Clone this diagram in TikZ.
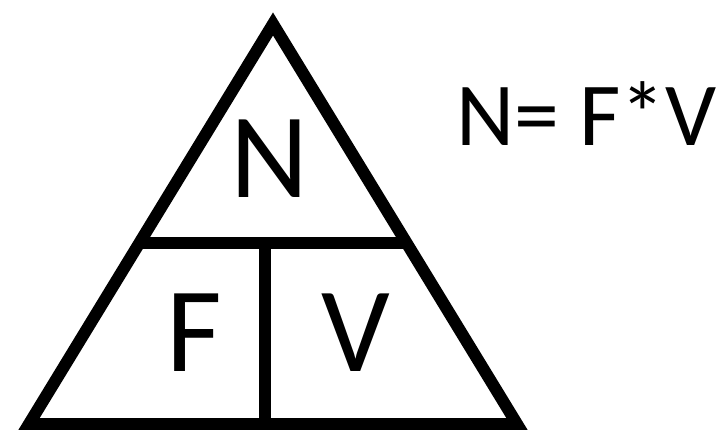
\documentclass[tikz,border=0pt]{standalone}
\usepackage{fontspec}
\setmainfont{Carlito}
\usetikzlibrary{calc}
\begin{document}
\begin{tikzpicture}[x=1pt,y=-1pt,
  edge/.style={line width=12pt,line join=miter,black},
  bigletter/.style={inner sep=0pt,anchor=base,font=\fontsize{121}{121}\selectfont},
  formula/.style={inner sep=0pt,anchor=base west,font=\fontsize{90}{90}\selectfont}]
\useasboundingbox[fill=white] (0,0) rectangle (726,430);
\coordinate (apex) at (273,24);
\coordinate (bl) at (29,424);
\coordinate (br) at (517,424);
\coordinate (ml) at ($(apex)!0.5475!(bl)$);
\coordinate (mr) at ($(apex)!0.5475!(br)$);
\coordinate (vt) at (265,243);
\coordinate (vb) at (265,424);
\draw[edge] (apex) -- (bl) -- (br) -- cycle;
\draw[edge,line cap=butt] (ml) -- (mr);
\draw[edge,line cap=butt] (vt) -- (vb);
\node[bigletter] (n) at (270,198) {N};
\node[bigletter] (f) at (194,372) {F};
\node[bigletter] (v) at (356,372) {V};
\node[formula] (eq) at (456,146) {N= F*V};
\end{tikzpicture}
\end{document}
